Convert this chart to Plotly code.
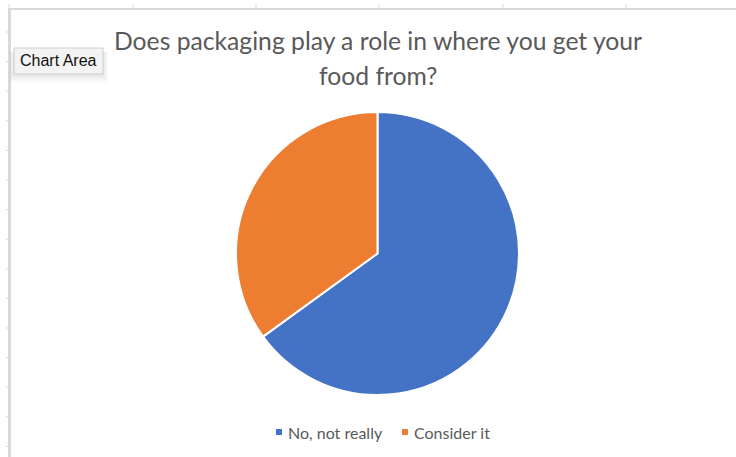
import plotly.graph_objects as go

# Survey answers and their shares
answers = ["No, not really", "Consider it"]
shares = [65, 35]
slice_colors = ["#4472C4", "#ED7D31"]

title_lines = ["Does packaging play a role in where you get your", "food from?"]

W, H = 736, 457


def px(x):
    return x / W


def py(y):
    return 1 - y / H


fig = go.Figure()

fig.add_trace(go.Pie(
    labels=answers,
    values=shares,
    sort=False,
    direction="clockwise",
    rotation=0,
    marker=dict(colors=slice_colors, line=dict(color="white", width=2)),
    textinfo="none",
    hoverinfo="label+percent",
    domain=dict(x=[px(236), px(519)], y=[py(395), py(112)]),
    showlegend=False,
))

shapes = []
grid_color = "#d9d9d9"
# worksheet frame: top and left edges of the embedded chart
shapes.append(dict(type="line", xref="paper", yref="paper",
                   x0=px(9), x1=1, y0=py(9), y1=py(9),
                   line=dict(color=grid_color, width=2)))
shapes.append(dict(type="line", xref="paper", yref="paper",
                   x0=px(9.5), x1=px(9.5), y0=py(8), y1=0,
                   line=dict(color=grid_color, width=3)))
# column boundary ticks along the top
for cx in [9, 133, 256, 379, 503, 626]:
    shapes.append(dict(type="line", xref="paper", yref="paper",
                       x0=px(cx), x1=px(cx), y0=py(4), y1=py(9),
                       line=dict(color=grid_color, width=1)))
# row boundary ticks along the left
for k in range(15):
    ry = 32 + 29.6 * k
    shapes.append(dict(type="line", xref="paper", yref="paper",
                       x0=px(6), x1=px(9), y0=py(ry), y1=py(ry),
                       line=dict(color=grid_color, width=1)))

# tooltip shadow (soft, stacked translucent boxes)
for grow in [8, 6, 4, 2]:
    shapes.append(dict(type="rect", xref="paper", yref="paper",
                       x0=px(14 - grow * 0.6), x1=px(103 + grow * 0.6),
                       y0=py(52), y1=py(74 + grow),
                       fillcolor="rgba(0,0,0,0.025)", line=dict(width=0)))
# tooltip box
shapes.append(dict(type="rect", xref="paper", yref="paper",
                   x0=px(14), x1=px(103), y0=py(48), y1=py(74),
                   fillcolor="#f3f3f3", line=dict(color="#cfcfcf", width=1)))

annotations = []
# title, one annotation per centred line
for line, cy in zip(title_lines, [41, 76]):
    annotations.append(dict(
        text=line, x=px(378), y=py(cy), xref="paper", yref="paper",
        xanchor="center", yanchor="middle", showarrow=False,
        font=dict(family="Lato", size=24.7, color="#595959"),
    ))
# tooltip label
annotations.append(dict(
    text="Chart Area", x=px(58.5), y=py(61), xref="paper", yref="paper",
    xanchor="center", yanchor="middle", showarrow=False,
    font=dict(family="Liberation Sans", size=16, color="#111111"),
))
# legend entries: small coloured square followed by the answer label
legend_x = [276, 402]
for name, col, lx in zip(answers, slice_colors, legend_x):
    shapes.append(dict(type="rect", xref="paper", yref="paper",
                       x0=px(lx), x1=px(lx + 6), y0=py(429), y1=py(435),
                       fillcolor=col, line=dict(width=0)))
    annotations.append(dict(
        text=name, x=px(lx + 10), y=py(432), xref="paper", yref="paper",
        xanchor="left", yanchor="middle", showarrow=False,
        font=dict(family="Lato", size=16, color="#595959"),
    ))

fig.update_layout(
    width=W, height=H,
    margin=dict(l=0, r=0, t=0, b=0),
    paper_bgcolor="white",
    plot_bgcolor="white",
    shapes=shapes,
    annotations=annotations,
)

fig.write_html("out.html")
